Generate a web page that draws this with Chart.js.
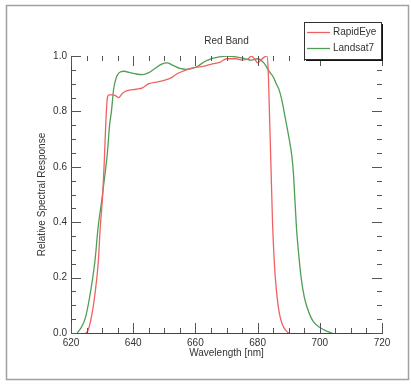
<!DOCTYPE html>
<html lang="en">
<head>
    <meta charset="UTF-8">
    <title>Red Band</title>
    <script src="https://cdn.jsdelivr.net/npm/chart.js"></script>
    <style>
        body {
            margin: 0;
            background: #ffffff;
            font-family: "Liberation Sans", Arial, sans-serif;
        }
        #wrap {
            width: 411px;
            height: 386px;
        }
    </style>
</head>
<body>
    <div id="wrap"><canvas id="redBandChart" width="411" height="386"></canvas></div>

    <script>
        // wavelength (nm) / relative response
        var rapidEyeWl = [624.8, 625.5, 626.6, 627.7, 628.8, 629.4, 630.2, 630.7, 631.2, 631.7, 632.3, 633.5, 634.5, 635.3, 636.5, 638, 641, 643, 645, 648, 650, 652, 654, 656, 659, 662, 665, 668, 670, 673, 675, 677, 678, 679, 680, 681, 682, 683, 683.4, 683.8, 684.3, 684.8, 685.4, 686, 686.6, 687.2, 688, 689, 690];
        var rapidEyeResp = [0, 0.01, 0.06, 0.14, 0.26, 0.38, 0.5, 0.62, 0.76, 0.85, 0.86, 0.86, 0.855, 0.85, 0.865, 0.875, 0.88, 0.885, 0.9, 0.907, 0.912, 0.92, 0.935, 0.945, 0.957, 0.962, 0.97, 0.978, 0.99, 0.99, 0.985, 0.99, 1.0, 0.99, 0.975, 0.985, 0.995, 1.0, 0.95, 0.8, 0.6, 0.4, 0.25, 0.16, 0.1, 0.06, 0.03, 0.01, 0];

        var landsatWl = [622, 623, 624.5, 626, 627.7, 628.7, 629.9, 631, 631.7, 632.4, 633, 633.7, 634.5, 635.5, 637, 639, 641, 643, 645, 647, 649, 651, 653, 655, 657, 659, 661, 663, 665, 667, 670, 673, 676, 678, 680, 682, 684, 685, 686, 687, 688, 689, 690, 691, 691.5, 692, 692.5, 693, 694, 695, 696, 697, 698, 700, 702, 704];
        var landsatResp = [0, 0.015, 0.05, 0.13, 0.26, 0.38, 0.48, 0.58, 0.65, 0.75, 0.8, 0.88, 0.92, 0.94, 0.945, 0.94, 0.935, 0.933, 0.94, 0.955, 0.97, 0.975, 0.965, 0.955, 0.952, 0.955, 0.965, 0.98, 0.99, 0.995, 1.0, 0.997, 0.99, 0.985, 0.99, 0.975, 0.94, 0.925, 0.9, 0.875, 0.83, 0.77, 0.71, 0.64, 0.58, 0.48, 0.38, 0.31, 0.2, 0.13, 0.09, 0.06, 0.04, 0.02, 0.008, 0];

        var xTicks = [620, 640, 660, 680, 700, 720];
        var yTicks = [0, 0.2, 0.4, 0.6, 0.8, 1.0];

        var seriesNames = ["RapidEye", "Landsat7"];
        var seriesColors = ["#f06262", "#4f9e55"];

        function toPoints(xs, ys) {
            return xs.map(function (x, i) { return { x: x, y: ys[i] }; });
        }

        var txt = "#333333";
        var font10 = { family: "'Liberation Sans', Arial, sans-serif", size: 10, weight: 'normal' };

        // outer frame, inward ticks on all four sides, legend with shadow
        var decorPlugin = {
            id: 'decor',
            beforeDraw: function (chart) {
                var c = chart.ctx;
                c.save();
                c.strokeStyle = "#a0a0a0";
                c.lineWidth = 1.5;
                c.strokeRect(6.5, 5.5, 402, 374);
                c.restore();
            },
            afterDraw: function (chart) {
                var c = chart.ctx, a = chart.chartArea;
                var xs = chart.scales.x, ys = chart.scales.y;
                c.save();
                c.strokeStyle = "#555555";
                c.lineWidth = 1;
                c.beginPath();
                for (var v = 620; v <= 720; v += 5) {
                    var px = Math.round(xs.getPixelForValue(v)) + 0.5;
                    var len = (v % 20 === 0) ? 10 : 5;
                    c.moveTo(px, a.bottom); c.lineTo(px, a.bottom - len);
                    c.moveTo(px, a.top); c.lineTo(px, a.top + len);
                }
                for (var k = 0; k <= 20; k++) {
                    var py = Math.round(ys.getPixelForValue(k * 0.05)) + 0.5;
                    var l2 = (k % 4 === 0) ? 10 : 5;
                    c.moveTo(a.left, py); c.lineTo(a.left + l2, py);
                    c.moveTo(a.right, py); c.lineTo(a.right - l2, py);
                }
                c.stroke();

                // legend
                var bx = 304, by = 22, bw = 77, bh = 37;
                c.fillStyle = "#111111";
                c.fillRect(bx + 2, by + 2, bw, bh);
                c.fillStyle = "#ffffff";
                c.fillRect(bx, by, bw, bh);
                c.strokeStyle = "#333333";
                c.strokeRect(bx + 0.5, by + 0.5, bw, bh);
                c.font = "10px 'Liberation Sans', Arial, sans-serif";
                c.textBaseline = "middle";
                c.textAlign = "left";
                chart.data.datasets.forEach(function (ds, i) {
                    var ly = by + 10 + i * 16;
                    c.strokeStyle = ds.borderColor;
                    c.lineWidth = 1.3;
                    c.beginPath();
                    c.moveTo(bx + 3, ly + 0.5); c.lineTo(bx + 26, ly + 0.5);
                    c.stroke();
                    c.fillStyle = txt;
                    c.fillText(ds.label, bx + 29, ly);
                });
                c.restore();
            }
        };

        var ctx = document.getElementById('redBandChart').getContext('2d');
        var redBandChart = new Chart(ctx, {
            type: 'line',
            data: {
                datasets: [
                    { label: seriesNames[0], data: toPoints(rapidEyeWl, rapidEyeResp), borderColor: seriesColors[0] },
                    { label: seriesNames[1], data: toPoints(landsatWl, landsatResp), borderColor: seriesColors[1] }
                ]
            },
            options: {
                responsive: false,
                animation: false,
                layout: { padding: { left: 36, right: 29, top: 0, bottom: 27 } },
                elements: {
                    point: { radius: 0 },
                    line: { borderWidth: 1.3, fill: false, cubicInterpolationMode: 'monotone' }
                },
                plugins: {
                    legend: { display: false },
                    tooltip: { enabled: false },
                    title: {
                        display: true,
                        text: 'Red Band',
                        fullSize: false,
                        color: txt,
                        font: font10,
                        padding: { top: 35, bottom: 9 }
                    }
                },
                scales: {
                    x: {
                        type: 'linear',
                        min: 620, max: 720,
                        afterBuildTicks: function (s) { s.ticks = xTicks.map(function (v) { return { value: v }; }); },
                        afterFit: function (s) { s.height = 26; },
                        grid: { display: false, drawTicks: false },
                        border: { display: true, color: '#444444', width: 1 },
                        ticks: { color: txt, font: font10, padding: 4, maxRotation: 0,
                                 callback: function (v) { return v.toFixed(0); } },
                        title: { display: true, text: 'Wavelength [nm]', color: txt, font: font10, padding: 0 }
                    },
                    y: {
                        type: 'linear',
                        min: 0, max: 1,
                        afterBuildTicks: function (s) { s.ticks = yTicks.map(function (v) { return { value: v }; }); },
                        afterFit: function (s) { s.width = 35; },
                        grid: { display: false, drawTicks: false },
                        border: { display: true, color: '#444444', width: 1 },
                        ticks: { color: txt, font: font10, padding: 4,
                                 callback: function (v) { return v.toFixed(1); } },
                        title: { display: true, text: 'Relative Spectral Response', color: txt, font: font10, padding: 0 }
                    }
                }
            },
            plugins: [decorPlugin]
        });
    </script>
</body>
</html>
